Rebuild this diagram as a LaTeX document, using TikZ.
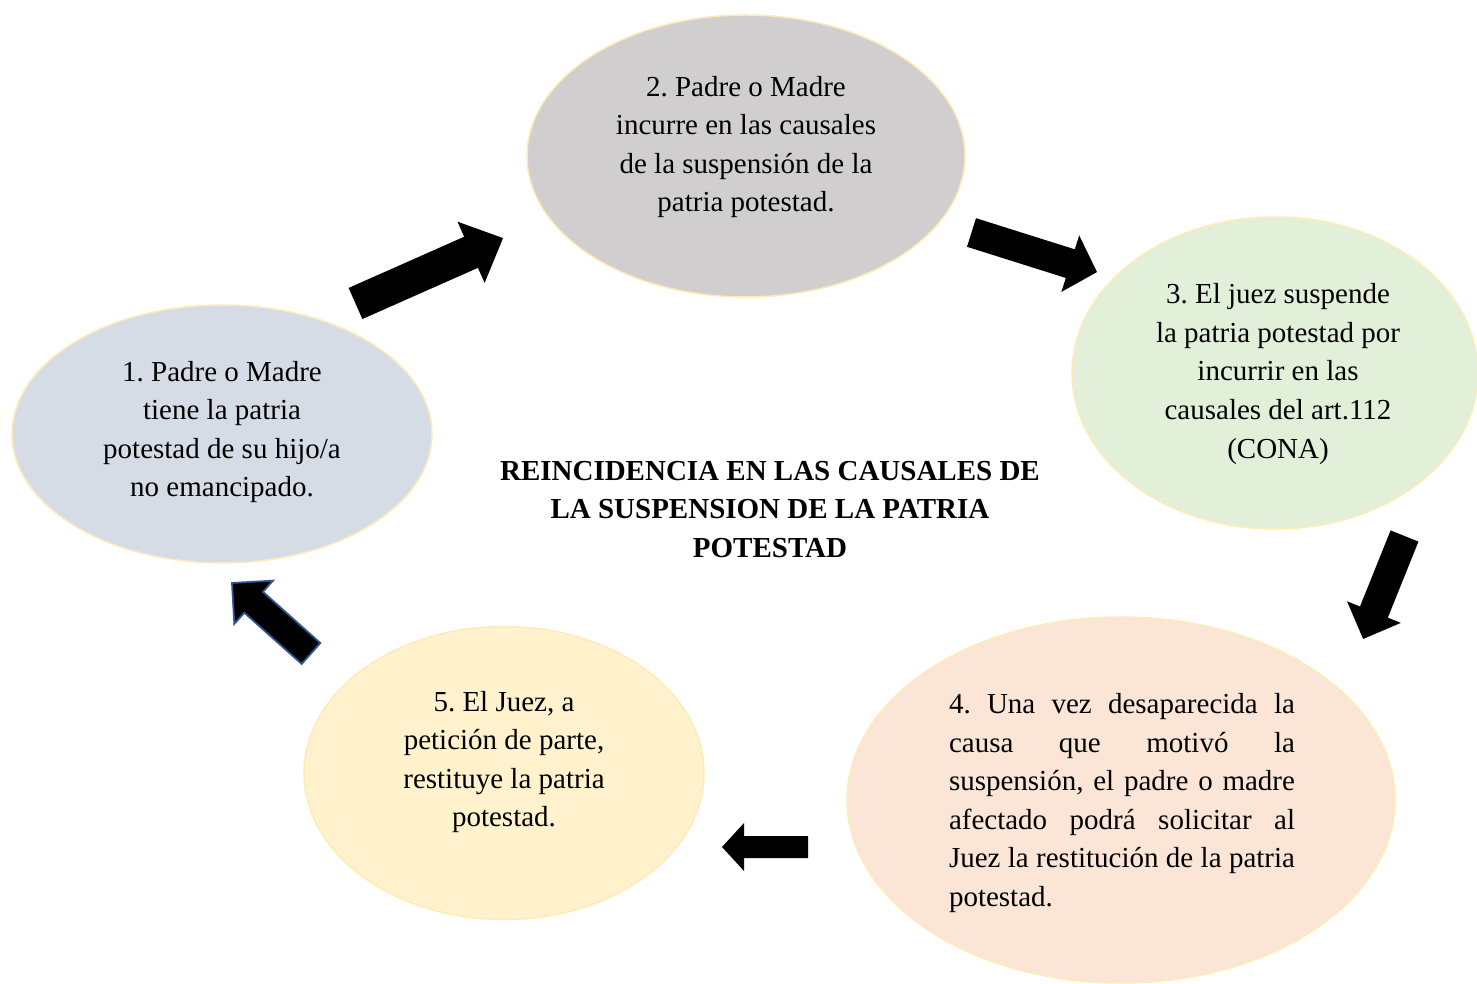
\documentclass[tikz,border=0pt]{standalone}
\usepackage{fontspec}
\setmainfont{Liberation Serif}
\usetikzlibrary{shapes.geometric}
\definecolor{eone}{HTML}{D6DCE5}
\definecolor{etwo}{HTML}{D0CECE}
\definecolor{ethree}{HTML}{E2F0D9}
\definecolor{efour}{HTML}{FBE5D6}
\definecolor{efive}{HTML}{FFF2CC}
\definecolor{erim}{HTML}{FFEBB8}
\definecolor{arrowrim}{HTML}{2F5597}
\newcommand{\blockarrow}[7]{%
  \draw[#1, shift={#2}, rotate=#3] (0,#5) -- ({#4-#7},#5) -- ({#4-#7},#6) -- (#4,0)
    -- ({#4-#7},-#6) -- ({#4-#7},-#5) -- (0,-#5) -- cycle;}
\tikzset{
  phase/.style={ellipse, draw=erim, line width=1.5pt, inner sep=0pt},
  phasetext/.style={align=center, inner sep=0pt, font=\fontsize{29}{38.6}\selectfont\frenchspacing},
  titletext/.style={align=center, inner sep=0pt, font=\fontsize{29}{38.6}\selectfont\bfseries},
  blockarr/.style={fill=black, draw=none},
  blockarrrim/.style={fill=black, draw=arrowrim, line width=1.8pt, line join=miter}
}
\begin{document}
\begin{tikzpicture}[x=1pt,y=1pt]
\useasboundingbox (0,0) rectangle (1477,983);
\clip (0,0) rectangle (1477,983);
% ellipses
\node[phase, fill=eone, minimum width=420pt, minimum height=258pt] (e1) at (222,549) {};
\node[phase, fill=etwo, minimum width=438pt, minimum height=282pt] (e2) at (746,827) {};
\node[phase, fill=ethree, minimum width=406pt, minimum height=312pt] (e3) at (1275,610) {};
\node[phase, fill=efour, minimum width=548pt, minimum height=366pt] (e4) at (1121,183) {};
\node[phase, fill=efive, minimum width=400pt, minimum height=293pt] (e5) at (504,210) {};
% texts
\node[phasetext] (t1) at (222,551) {1. Padre o Madre\\tiene la patria\\potestad de su hijo/a\\no emancipado.};
\node[phasetext] (t2) at (746,836) {2. Padre o Madre\\incurre en las causales\\de la suspensión de la\\patria potestad.};
\node[phasetext] (t3) at (1278,609) {3. El juez suspende\\la patria potestad por\\incurrir en las\\causales del art.112\\(CONA)};
\node[phasetext, align=justify, text width=346pt] (t4) at (1122,180) {4. Una vez desaparecida la\linebreak causa que motivó la\linebreak suspensión, el padre o madre\linebreak afectado podrá solicitar al\linebreak Juez la restitución de la patria\linebreak potestad.};
\node[phasetext] (t5) at (504,221) {5. El Juez, a\\petición de parte,\\restituye la patria\\potestad.};
\node[titletext] (title) at (770,473.5) {REINCIDENCIA EN LAS CAUSALES DE\\LA SUSPENSION DE LA PATRIA\\POTESTAD};
% block arrows
\blockarrow{blockarr}{(355.5,679.5)}{23.9}{161.4}{17}{33.5}{35}
\blockarrow{blockarr}{(971.5,750.5)}{-17.5}{131.6}{15}{29.6}{28}
\blockarrow{blockarr}{(1404.5,447)}{-111.9}{111.0}{15}{29}{29}
\blockarrow{blockarrrim}{(311,329.5)}{138.25}{105.9}{14}{29}{29}
\blockarrow{blockarr}{(808,136)}{180}{86}{11}{24}{22}
\end{tikzpicture}
\end{document}
